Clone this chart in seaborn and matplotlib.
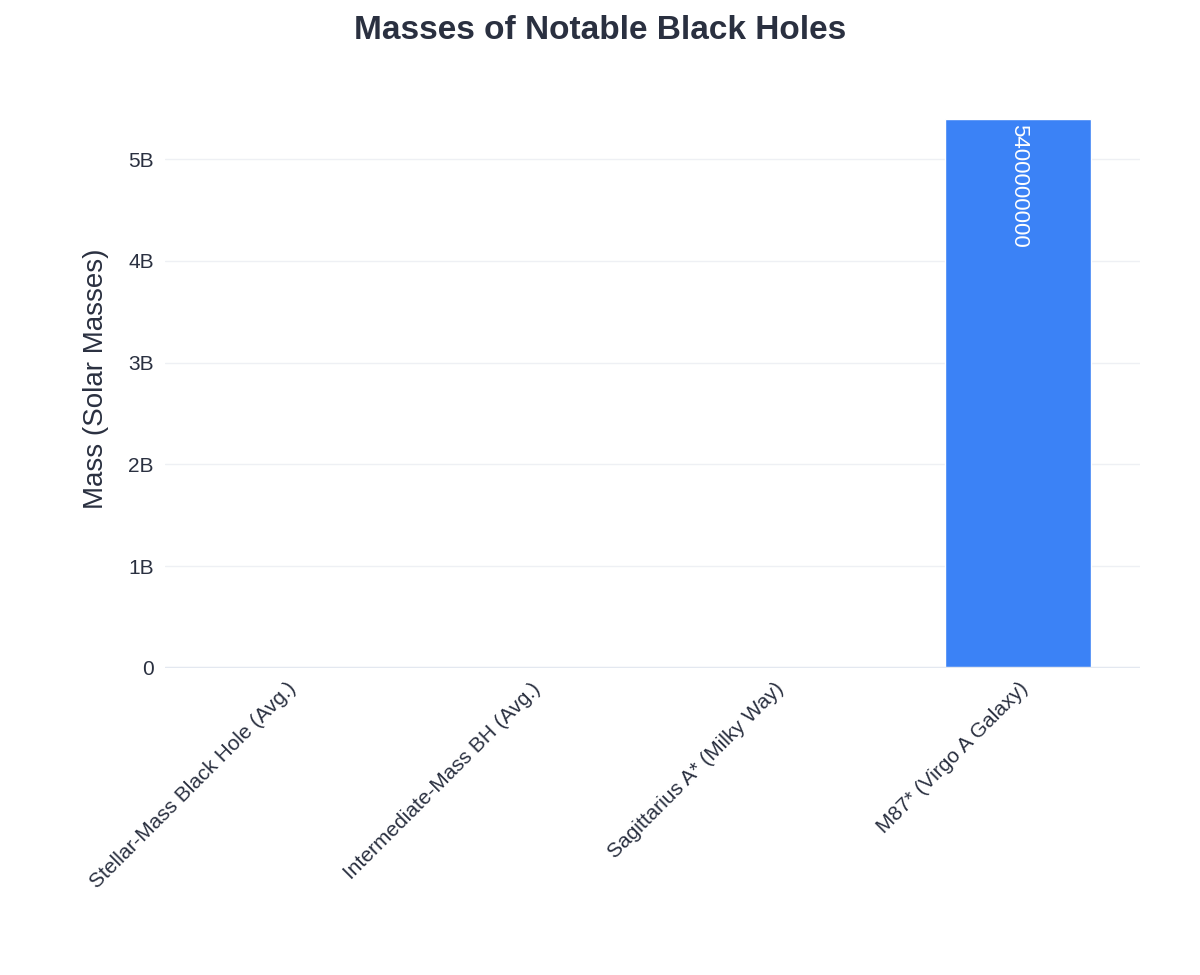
import matplotlib
matplotlib.use("Agg")
import matplotlib.pyplot as plt
import seaborn as sns
import pandas as pd
from matplotlib.ticker import FuncFormatter

names = ["Stellar-Mass Black Hole (Avg.)", "Intermediate-Mass BH (Avg.)",
         "Sagittarius A* (Milky Way)", "M87* (Virgo A Galaxy)"]
masses = [10, 10000, 4300000, 5400000000]

df = pd.DataFrame({"name": names, "mass": masses})

sns.set_style("white")
plt.rcParams["font.family"] = ["Liberation Sans", "DejaVu Sans"]
text_color = "#2a3040"

fig = plt.figure(figsize=(12, 9.75), dpi=100)
ax = fig.add_axes([0.1375, 0.315, 0.8125, 0.593])
sns.barplot(data=df, x="name", y="mass", color="#3b82f6", width=0.6,
            saturation=1, ax=ax, zorder=3)

ax.set_ylim(0, 5.684e9)
ax.set_xlim(-0.5, 3.5)
ax.set_yticks([0, 1e9, 2e9, 3e9, 4e9, 5e9])
ax.yaxis.set_major_formatter(FuncFormatter(lambda v, p: "0" if v == 0 else f"{v/1e9:.0f}B"))
ax.grid(axis="y", color="#eef0f4", linewidth=1, zorder=0)
ax.axhline(0, color="#e3e8f0", linewidth=2.5, zorder=4)
for s in ax.spines.values():
    s.set_visible(False)
ax.tick_params(axis="both", length=0, labelsize=15, colors=text_color, pad=8)
ax.set_xticks(range(len(names)))
ax.set_xticklabels(names, rotation=45, ha="right", rotation_mode="anchor")
ax.set_xlabel("")
ax.set_ylabel("Mass (Solar Masses)", fontsize=20, color=text_color, labelpad=14)

ymax = ax.get_ylim()[1]
for i, m in enumerate(masses):
    if m > 0.2 * ymax:
        ax.text(i, m - 0.01 * ymax, str(m), rotation=-90, ha="center", va="top",
                color="white", fontsize=16, zorder=5)
    elif m > 0.001 * ymax:
        ax.text(i, m + 0.01 * ymax, str(m), ha="center", va="bottom",
                color=text_color, fontsize=16, zorder=5)

fig.suptitle("Masses of Notable Black Holes", fontsize=24, fontweight="bold",
             color=text_color, y=0.985)
fig.savefig("out.png", dpi=100, facecolor="white")
